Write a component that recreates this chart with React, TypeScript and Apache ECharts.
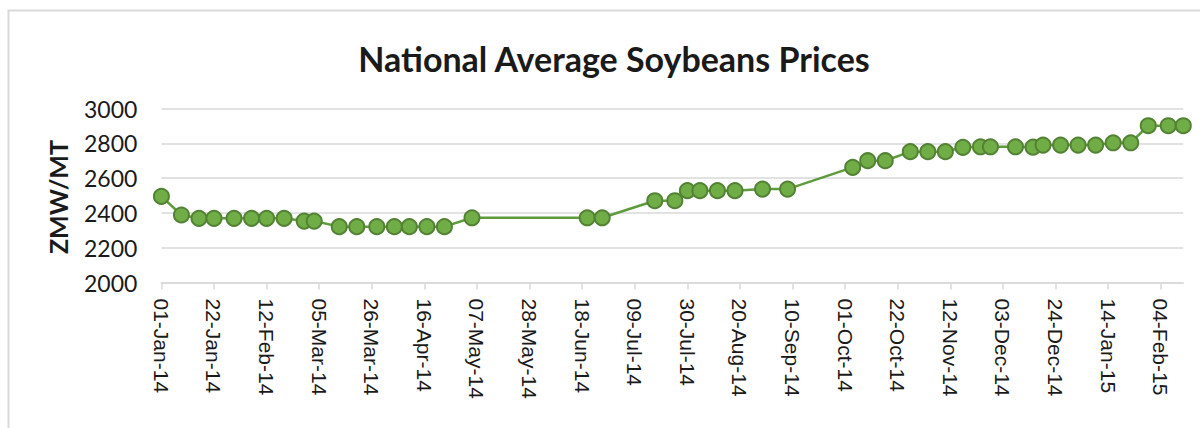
import React, { useEffect, useRef } from "react";
import * as echarts from "echarts";

const dates: string[] = [
  "2014-01-01", "2014-01-09", "2014-01-16", "2014-01-22", "2014-01-30", "2014-02-06",
  "2014-02-12", "2014-02-19", "2014-02-27", "2014-03-03", "2014-03-13", "2014-03-20",
  "2014-03-28", "2014-04-04", "2014-04-10", "2014-04-17", "2014-04-24", "2014-05-05",
  "2014-06-20", "2014-06-26", "2014-07-17", "2014-07-25", "2014-07-30", "2014-08-04",
  "2014-08-11", "2014-08-18", "2014-08-29", "2014-09-08", "2014-10-04", "2014-10-10",
  "2014-10-17", "2014-10-27", "2014-11-03", "2014-11-10", "2014-11-17", "2014-11-24",
  "2014-11-28", "2014-12-08", "2014-12-15", "2014-12-19", "2014-12-26", "2015-01-02",
  "2015-01-09", "2015-01-16", "2015-01-23", "2015-01-30", "2015-02-07", "2015-02-13",
];

const prices: number[] = [
  2495, 2388, 2369, 2369, 2369, 2369,
  2369, 2369, 2353, 2353, 2321, 2321,
  2321, 2321, 2321, 2321, 2321, 2372,
  2372, 2372, 2470, 2470, 2528, 2528,
  2528, 2528, 2537, 2537, 2662, 2700,
  2700, 2752, 2752, 2752, 2777, 2780,
  2780, 2780, 2778, 2790, 2790, 2790,
  2790, 2803, 2803, 2901, 2901, 2901,
];

const startDate = "2014-01-01";
const endDate = "2015-02-13";
const tickStepDays = 21;
const yMin = 2000;
const yMax = 3000;
const yStep = 200;

const title = "National Average Soybeans Prices";
const yName = "ZMW/MT";

const MONTHS = ["Jan", "Feb", "Mar", "Apr", "May", "Jun", "Jul", "Aug", "Sep", "Oct", "Nov", "Dec"];
const DAY_MS = 86400000;
const t0 = Date.parse(startDate + "T00:00:00Z");
const dayIndex = (s: string) => Math.round((Date.parse(s + "T00:00:00Z") - t0) / DAY_MS);
const fmtDay = (d: number) => {
  const dt = new Date(t0 + d * DAY_MS);
  const dd = String(dt.getUTCDate()).padStart(2, "0");
  const yy = String(dt.getUTCFullYear() % 100).padStart(2, "0");
  return `${dd}-${MONTHS[dt.getUTCMonth()]}-${yy}`;
};

export default function App() {
  const ref = useRef<HTMLDivElement>(null);
  useEffect(() => {
    if (!ref.current) return;
    const chart = echarts.init(ref.current, null, { renderer: "svg" });
    const maxDay = dayIndex(endDate);
    const tickVals: number[] = [];
    for (let d = 0; d <= maxDay; d += tickStepDays) tickVals.push(d);
    const data = dates.map((s, i) => [dayIndex(s), prices[i]]);
    chart.setOption({
      animation: false,
      backgroundColor: "#ffffff",
      title: {
        text: title,
        left: 609,
        top: 36,
        textAlign: "center",
        textStyle: { fontFamily: "Lato", fontWeight: "bold", fontSize: 34, color: "#1a1a1a" },
      },
      graphic: [
        {
          type: "rect",
          silent: true,
          shape: { x: 8.5, y: 10.5, width: 1400, height: 600 },
          style: { fill: "none", stroke: "#d9d9d9", lineWidth: 2 },
          z: -1,
        },
        {
          type: "text",
          left: 45,
          top: 140,
          rotation: Math.PI / 2,
          silent: true,
          style: {
            text: yName,
            fontFamily: "Lato",
            fontWeight: "bold",
            fontSize: 25,
            fill: "#1a1a1a",
          },
        },
      ],
      grid: { left: 161.4, right: 16.7, top: 108.5, bottom: 145.5, containLabel: false },
      xAxis: {
        type: "value",
        min: 0,
        max: maxDay,
        interval: tickStepDays,
        axisLine: { show: true, lineStyle: { color: "#d9d9d9", width: 1.5 } },
        axisTick: { show: true, length: 7, customValues: tickVals, lineStyle: { color: "#d9d9d9", width: 1.5 } },
        splitLine: { show: false },
        axisLabel: {
          customValues: tickVals,
          rotate: -90,
          margin: 16,
          fontFamily: "Liberation Sans",
          fontSize: 21,
          color: "#1a1a1a",
          formatter: (v: number) => fmtDay(v),
        },
      },
      yAxis: {
        type: "value",
        min: yMin,
        max: yMax,
        interval: yStep,
        axisLine: { show: false },
        axisTick: { show: false },
        splitLine: { show: true, lineStyle: { color: "#d9d9d9", width: 1.5 } },
        axisLabel: {
          margin: 24,
          fontFamily: "Lato",
          fontSize: 23,
          color: "#1a1a1a",
          formatter: (v: number) => String(v),
        },
      },
      series: [
        {
          type: "line",
          data,
          symbol: "circle",
          symbolSize: 15,
          lineStyle: { color: "#5f9a3c", width: 2.5 },
          itemStyle: { color: "#70ad47", borderColor: "#548235", borderWidth: 2 },
          z: 3,
        },
      ],
    });
    return () => chart.dispose();
  }, []);
  return (
    <div
      ref={ref}
      style={{ position: "absolute", left: 0, top: 0, width: 1200, height: 428 }}
    />
  );
}
